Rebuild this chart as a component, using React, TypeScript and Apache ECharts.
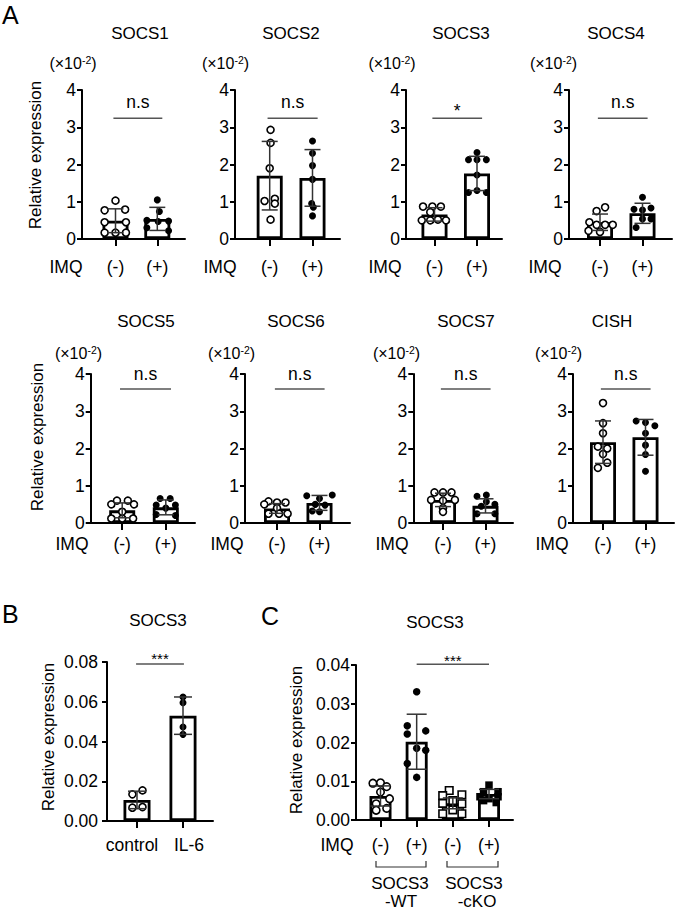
import { useEffect, useRef } from 'react';
import * as echarts from 'echarts';

const FONT = '"Liberation Sans", Arial, Helvetica, sans-serif';

// ---------- Panel A (values in ×10^-2) ----------
const imqGroups = ['(-)', '(+)'];
const aAxisMax = 4;
const aAxisStep = 1;

const socs1Mean = [0.49, 0.54];
const socs1Sd = [0.32, 0.31];
const socs1Neg = [1.03, 0.79, 0.77, 0.45, 0.45, 0.17, 0.17, 0.17];
const socs1NegJit = [0, 0.23, -0.26, -0.26, 0.25, -0.26, 0, 0.25];
const socs1Pos = [1.05, 0.74, 0.5, 0.47, 0.48, 0.3, 0.22];
const socs1PosJit = [0, 0.05, -0.25, 0.02, 0.27, -0.25, 0.27];

const socs2Mean = [1.7, 1.64];
const socs2Sd = [0.92, 0.76];
const socs2Neg = [2.93, 2.58, 1.9, 1.08, 0.95, 1.02, 0.52];
const socs2NegJit = [0.02, 0.02, 0, 0.12, 0.12, -0.12, 0.02];
const socs2Pos = [2.63, 2.3, 1.97, 1.6, 0.95, 0.85, 0.62];
const socs2PosJit = [0, 0, 0, 0, -0.02, 0.02, 0];

const socs3Mean = [0.66, 1.76];
const socs3Sd = [0.18, 0.46];
const socs3Neg = [0.87, 0.87, 0.87, 0.72, 0.5, 0.5, 0.52, 0.5];
const socs3NegJit = [-0.27, -0.05, 0.15, -0.1, -0.3, -0.1, 0.08, 0.27];
const socs3Pos = [2.32, 2.13, 2.13, 2.13, 1.72, 1.25, 1.3, 1.25];
const socs3PosJit = [0, -0.2, 0, 0.22, 0, -0.2, 0, 0.22];

const socs4Mean = [0.45, 0.69];
const socs4Sd = [0.22, 0.27];
const socs4Neg = [0.85, 0.75, 0.45, 0.38, 0.38, 0.38, 0.22, 0.19];
const socs4NegJit = [0.12, -0.08, -0.25, -0.08, 0.12, 0.3, -0.27, 0];
const socs4Pos = [1.12, 0.8, 0.78, 0.83, 0.54, 0.54, 0.31];
const socs4PosJit = [0, -0.2, 0, 0.2, 0, 0.2, -0.15];

const socs5Mean = [0.34, 0.42];
const socs5Sd = [0.2, 0.2];
const socs5Neg = [0.6, 0.6, 0.5, 0.5, 0.3, 0.12, 0.12, 0.12];
const socs5NegJit = [-0.12, 0.13, -0.25, 0.27, 0, -0.25, 0, 0.25];
const socs5Pos = [0.66, 0.66, 0.48, 0.48, 0.4, 0.23, 0.2];
const socs5PosJit = [-0.13, 0.1, -0.22, 0.22, 0, -0.22, 0.22];

const socs6Mean = [0.39, 0.54];
const socs6Sd = [0.13, 0.2];
const socs6Neg = [0.58, 0.55, 0.55, 0.5, 0.4, 0.25, 0.25, 0.25];
const socs6NegJit = [-0.2, 0, 0.2, -0.3, 0, -0.2, 0.05, 0.25];
const socs6Pos = [0.73, 0.75, 0.66, 0.5, 0.48, 0.32, 0.3];
const socs6PosJit = [-0.3, 0.3, 0, -0.1, 0.13, -0.17, 0];

const socs7Mean = [0.62, 0.46];
const socs7Sd = [0.18, 0.19];
const socs7Neg = [0.82, 0.82, 0.82, 0.62, 0.62, 0.6, 0.4, 0.3];
const socs7NegJit = [-0.2, 0, 0.2, -0.28, 0.28, 0, 0, 0];
const socs7Pos = [0.72, 0.75, 0.57, 0.5, 0.45, 0.25, 0.25];
const socs7PosJit = [-0.2, 0.02, 0.02, 0.22, -0.1, -0.2, 0.22];

const cishMean = [2.17, 2.3];
const cishSd = [0.57, 0.48];
const cishNeg = [3.22, 2.68, 2.41, 2.05, 2.0, 1.85, 1.62, 1.48];
const cishNegJit = [0, 0, 0, -0.12, 0.1, 0, 0.1, -0.12];
const cishPos = [2.74, 2.7, 2.61, 2.41, 2.09, 1.84, 1.39];
const cishPosJit = [-0.22, 0, 0.22, 0, 0, 0, 0];

// ---------- Panel B ----------
const bGroups = ['control', 'IL-6'];
const bAxisMax = 0.08;
const bAxisStep = 0.02;
const bMean = [0.0106, 0.053];
const bSd = [0.0044, 0.0094];
const bControl = [0.0154, 0.0134, 0.0067, 0.007];
const bControlJit = [0.12, -0.1, -0.1, 0.12];
const bIl6 = [0.0624, 0.0595, 0.0473, 0.0436];
const bIl6Jit = [0, 0, 0, 0];

// ---------- Panel C ----------
const cGroups = ['(-)', '(+)', '(-)', '(+)'];
const cAxisMax = 0.04;
const cAxisStep = 0.01;
const cMean = [0.0062, 0.0202, 0.0043, 0.0067];
const cSd = [0.0026, 0.0071, 0.0014, 0.0012];
const cWtNeg = [0.0095, 0.0096, 0.0086, 0.0072, 0.0055, 0.0042, 0.0025, 0.003];
const cWtNegJit = [-0.21, 0, 0.17, 0, 0.25, -0.12, -0.12, 0.17];
const cWtPos = [0.0331, 0.0243, 0.023, 0.0222, 0.0185, 0.018, 0.0146, 0.011];
const cWtPosJit = [0, -0.26, 0.25, -0.26, 0, 0.25, -0.26, 0];
const cKoNeg = [0.0076, 0.0065, 0.0063, 0.005, 0.0043, 0.0042, 0.0026, 0.0016, 0.0016];
const cKoNegJit = [-0.1, 0.25, -0.28, 0, -0.28, 0.25, 0, -0.28, 0.25];
const cKoPos = [0.009, 0.0073, 0.0073, 0.006, 0.006, 0.0055, 0.005, 0.0045];
const cKoPosJit = [0, -0.15, 0.25, -0.25, 0.25, 0, -0.15, 0.2];

type Group = { v: number[]; j: number[]; hollow: boolean; sym: string };
type Panel = {
  title: string;
  cats: string[];
  means: number[];
  sds: number[];
  groups: Group[];
  sig: { text: string; from: number; to: number; y: number; gap: number; size: number };
  yMax: number;
  yStep: number;
  dec: number;
  labelShift?: number[];
  geo: {
    left: number; end: number; top: number; bottom: number; bars: number[];
    titleX: number; titleY: number; barW: number; capW: number; symSize: number;
    labelMargin: number; yLabelMargin: number;
  };
};

const topRow = { top: 90, bottom: 239 };
const botRow = { top: 374, bottom: 523 };

function aPanel(
  title: string, means: number[], sds: number[], neg: number[], negJ: number[], pos: number[], posJ: number[],
  sigText: string, sigY: number, left: number, end: number, b0: number, b1: number, row: { top: number; bottom: number },
  titleX: number, titleY: number, labelMargin: number, sigGap: number
): Panel {
  return {
    title, cats: imqGroups, means, sds,
    groups: [
      { v: neg, j: negJ, hollow: true, sym: 'circle' },
      { v: pos, j: posJ, hollow: false, sym: 'circle' },
    ],
    sig: { text: sigText, from: -0.05, to: 1.12, y: sigY, gap: sigGap, size: 17.5 },
    yMax: aAxisMax, yStep: aAxisStep, dec: 0,
    geo: { left, end, top: row.top, bottom: row.bottom, bars: [b0, b1], titleX, titleY, barW: 26, capW: 16, symSize: 7, labelMargin, yLabelMargin: 6 },
  };
}

const panels: Panel[] = [
  aPanel('SOCS1', socs1Mean, socs1Sd, socs1Neg, socs1NegJit, socs1Pos, socs1PosJit, 'n.s', 3.24, 82, 185, 115.5, 157.3, topRow, 140, 33, 18.5, 16),
  aPanel('SOCS2', socs2Mean, socs2Sd, socs2Neg, socs2NegJit, socs2Pos, socs2PosJit, 'n.s', 3.24, 235, 340, 269.7, 312.5, topRow, 291, 33, 18.5, 16),
  aPanel('SOCS3', socs3Mean, socs3Sd, socs3Neg, socs3NegJit, socs3Pos, socs3PosJit, '*', 3.24, 406, 502, 434.5, 477, topRow, 461, 33, 18.5, 7),
  aPanel('SOCS4', socs4Mean, socs4Sd, socs4Neg, socs4NegJit, socs4Pos, socs4PosJit, 'n.s', 3.24, 569, 672, 600, 642.5, topRow, 616, 33, 18.5, 16),
  aPanel('SOCS5', socs5Mean, socs5Sd, socs5Neg, socs5NegJit, socs5Pos, socs5PosJit, 'n.s', 3.6, 90.7, 195, 122.2, 165.8, botRow, 146, 321, 12, 15),
  aPanel('SOCS6', socs6Mean, socs6Sd, socs6Neg, socs6NegJit, socs6Pos, socs6PosJit, 'n.s', 3.6, 245, 350, 277, 319.5, botRow, 296, 321, 12, 15),
  aPanel('SOCS7', socs7Mean, socs7Sd, socs7Neg, socs7NegJit, socs7Pos, socs7PosJit, 'n.s', 3.6, 413.3, 513, 443, 485.5, botRow, 466, 321, 12, 15),
  aPanel('CISH', cishMean, cishSd, cishNeg, cishNegJit, cishPos, cishPosJit, 'n.s', 3.6, 573, 674, 603, 645.5, botRow, 612, 321, 12, 15),
  {
    title: 'SOCS3', cats: bGroups, means: bMean, sds: bSd,
    groups: [
      { v: bControl, j: bControlJit, hollow: true, sym: 'circle' },
      { v: bIl6, j: bIl6Jit, hollow: false, sym: 'circle' },
    ],
    sig: { text: '***', from: -0.02, to: 1.02, y: 0.079, gap: 5, size: 15 },
    yMax: bAxisMax, yStep: bAxisStep, dec: 2,
    labelShift: [-5, 6],
    geo: { left: 107, end: 213, top: 662, bottom: 821, bars: [137, 183], titleX: 158, titleY: 620, barW: 27, capW: 18, symSize: 7, labelMargin: 15, yLabelMargin: 9 },
  },
  {
    title: 'SOCS3', cats: cGroups, means: cMean, sds: cSd,
    groups: [
      { v: cWtNeg, j: cWtNegJit, hollow: true, sym: 'circle' },
      { v: cWtPos, j: cWtPosJit, hollow: false, sym: 'circle' },
      { v: cKoNeg, j: cKoNegJit, hollow: true, sym: 'rect' },
      { v: cKoPos, j: cKoPosJit, hollow: false, sym: 'rect' },
    ],
    sig: { text: '***', from: 1, to: 3, y: 0.0402, gap: 4, size: 15 },
    yMax: cAxisMax, yStep: cAxisStep, dec: 2,
    geo: { left: 356, end: 513, top: 665, bottom: 820, bars: [380.5, 416.7, 452.8, 489], titleX: 435, titleY: 622, barW: 22, capW: 20, symSize: 7.5, labelMargin: 16, yLabelMargin: 6 },
  },
];

const scaleLabels = [
  [73, 63], [225.5, 63], [392, 63], [553.5, 63],
  [78.5, 353], [231.5, 353], [396.5, 353], [558.5, 353],
];
const imqLabels = [
  [66, 266.5], [220, 266.5], [385, 266.5], [545, 266.5],
  [72, 544], [227, 544], [392, 544], [552, 544], [337, 845],
];
const yTitles = [[35, 155], [37, 437], [48, 737], [296, 740]];

export default function App() {
  const ref = useRef<HTMLDivElement>(null);
  useEffect(() => {
    if (!ref.current) return;
    const chart = echarts.init(ref.current, null, { renderer: 'svg' });
    const grid: any[] = [];
    const xAxis: any[] = [];
    const yAxis: any[] = [];
    const series: any[] = [];
    const graphic: any[] = [];

    const txt = (text: string, x: number, y: number, size: number, extra: any = {}) => ({
      type: 'text', x, y, ...extra,
      style: { text, fill: '#000', fontSize: size, fontFamily: FONT, align: 'center', verticalAlign: 'middle', ...(extra.style || {}) },
    });

    panels.forEach((p, i) => {
      const g = p.geo;
      const n = g.bars.length;
      const spacing = (g.bars[n - 1] - g.bars[0]) / (n - 1);
      const xMin = -(g.bars[0] - g.left) / spacing;
      const xMax = n - 1 + (g.end - g.bars[n - 1]) / spacing;
      const idx = p.cats.map((_, k) => k);
      const shift = p.labelShift;
      const rich: any = {};
      if (shift) {
        shift.forEach((s, k) => {
          rich['l' + k] = {
            fontSize: 17.5, color: '#000', fontFamily: FONT,
            padding: s < 0 ? [0, -2 * s, 0, 0] : [0, 0, 0, 2 * s],
          };
        });
      }
      grid.push({ left: g.left, top: g.top, width: g.end - g.left, height: g.bottom - g.top });
      xAxis.push({
        gridIndex: i, type: 'value', min: xMin, max: xMax,
        axisLine: { show: true, onZero: false, lineStyle: { color: '#000', width: 2 } },
        axisTick: { show: true, customValues: idx, length: 7, lineStyle: { color: '#000', width: 2 } },
        axisLabel: {
          show: true, customValues: idx, margin: g.labelMargin, fontSize: 17.5, color: '#000', fontFamily: FONT,
          rich,
          formatter: (v: number) => {
            const k = Math.round(v);
            const label = p.cats[k] ?? '';
            return shift ? `{l${k}|${label}}` : label;
          },
        },
        splitLine: { show: false },
      });
      yAxis.push({
        gridIndex: i, type: 'value', min: 0, max: p.yMax, interval: p.yStep,
        axisLine: { show: true, onZero: false, lineStyle: { color: '#000', width: 2 } },
        axisTick: { show: true, length: 5, lineStyle: { color: '#000', width: 2 } },
        axisLabel: {
          fontSize: 17.5, color: '#000', fontFamily: FONT, margin: g.yLabelMargin,
          formatter: (v: number) => v.toFixed(p.dec),
        },
        splitLine: { show: false },
      });
      series.push({
        type: 'bar', xAxisIndex: i, yAxisIndex: i, barWidth: g.barW, z: 2,
        data: p.means.map((m, k) => [k, m]),
        itemStyle: { color: '#fff', borderColor: '#000', borderWidth: 2.8 },
      });
      p.groups.forEach((gr, k) => {
        series.push({
          type: 'scatter', xAxisIndex: i, yAxisIndex: i, z: 4,
          symbol: gr.sym, symbolSize: g.symSize,
          data: gr.v.map((v, jj) => [k + gr.j[jj], v]),
          itemStyle: gr.hollow
            ? { color: '#fff', borderColor: '#000', borderWidth: 1.6, opacity: 1 }
            : { color: '#000', borderColor: '#000', borderWidth: 0, opacity: 1 },
        });
      });
      const capHalf = g.capW / 2;
      series.push({
        type: 'custom', xAxisIndex: i, yAxisIndex: i, z: 5,
        data: p.means.map((m, k) => [k, m, p.sds[k]]),
        renderItem: (_params: any, api: any) => {
          const x = api.value(0), m = api.value(1), s = api.value(2);
          const t = api.coord([x, m + s]);
          const b = api.coord([x, Math.max(m - s, 0)]);
          const st = { stroke: '#333', lineWidth: 1.5 };
          return {
            type: 'group', children: [
              { type: 'line', shape: { x1: t[0], y1: t[1], x2: b[0], y2: b[1] }, style: st },
              { type: 'line', shape: { x1: t[0] - capHalf, y1: t[1], x2: t[0] + capHalf, y2: t[1] }, style: st },
              { type: 'line', shape: { x1: b[0] - capHalf, y1: b[1], x2: b[0] + capHalf, y2: b[1] }, style: st },
            ],
          };
        },
      });
      const sig = p.sig;
      series.push({
        type: 'custom', xAxisIndex: i, yAxisIndex: i, z: 5,
        data: [[sig.from, sig.y, sig.to]],
        renderItem: (_params: any, api: any) => {
          const a = api.coord([api.value(0), api.value(1)]);
          const b = api.coord([api.value(2), api.value(1)]);
          return {
            type: 'group', children: [
              { type: 'line', shape: { x1: a[0], y1: a[1], x2: b[0], y2: b[1] }, style: { stroke: '#555', lineWidth: 1.5 } },
              {
                type: 'text', x: (a[0] + b[0]) / 2, y: a[1] - sig.gap,
                style: { text: sig.text, fill: '#000', fontSize: sig.size, fontFamily: FONT, align: 'center', verticalAlign: 'middle' },
              },
            ],
          };
        },
      });
      graphic.push(txt(p.title, g.titleX, g.titleY, 17));
    });

    scaleLabels.forEach(([x, y]) => {
      graphic.push({
        type: 'text', x, y,
        style: {
          text: '{a|(×10}{s|-2}{a|)}', align: 'center', verticalAlign: 'middle',
          rich: {
            a: { fontSize: 16, fontFamily: FONT, fill: '#000', lineHeight: 18 },
            s: { fontSize: 10.5, fontFamily: FONT, fill: '#000', verticalAlign: 'top', lineHeight: 18 },
          },
        },
      });
    });
    imqLabels.forEach(([x, y]) => graphic.push(txt('IMQ', x, y, 17.5)));
    yTitles.forEach(([x, y]) => graphic.push(txt('Relative expression', x, y, 17, { rotation: Math.PI / 2 })));

    graphic.push(txt('A', 2, 2, 25, { style: { align: 'left', verticalAlign: 'top' } }));
    graphic.push(txt('B', 2, 601, 25, { style: { align: 'left', verticalAlign: 'top' } }));
    graphic.push(txt('C', 261, 603, 25, { style: { align: 'left', verticalAlign: 'top' } }));

    const br = { stroke: '#333', lineWidth: 1.2, fill: 'none' };
    graphic.push({ type: 'polyline', shape: { points: [[376, 861], [376, 867], [426, 867], [426, 861]] }, style: br });
    graphic.push({ type: 'polyline', shape: { points: [[447, 861], [447, 867], [498, 867], [498, 861]] }, style: br });
    graphic.push(txt('SOCS3', 400, 883, 17));
    graphic.push(txt('-WT', 401, 901, 17));
    graphic.push(txt('SOCS3', 474, 883, 17));
    graphic.push(txt('-cKO', 477, 901, 17));

    chart.setOption({ animation: false, grid, xAxis, yAxis, series, graphic });
    return () => chart.dispose();
  }, []);
  return <div ref={ref} style={{ position: 'absolute', left: 0, top: 0, width: 675, height: 912, background: '#fff' }} />;
}
